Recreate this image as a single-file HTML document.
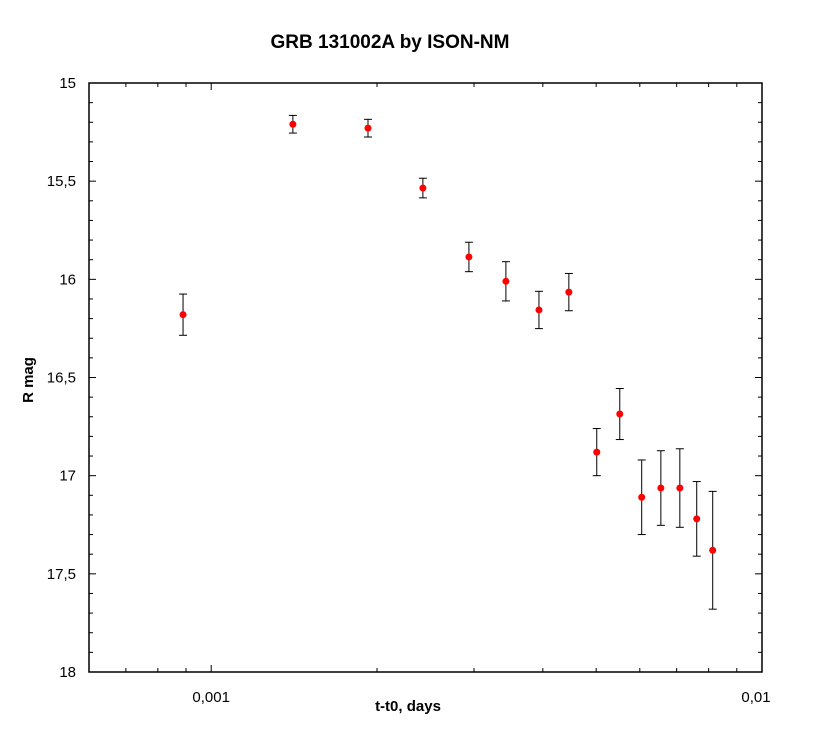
<!DOCTYPE html>
<html><head><meta charset="utf-8"><style>
html,body{margin:0;padding:0;background:#fff;}
svg text{font-family:"Liberation Sans",Arial,sans-serif;}
</style></head><body>
<svg id="chart" width="814" height="732" xmlns="http://www.w3.org/2000/svg">
<text x="390" y="48" text-anchor="middle" font-size="19" font-weight="bold">GRB 131002A by ISON-NM</text>
<text x="408" y="711" text-anchor="middle" font-size="15" font-weight="bold">t-t0, days</text>
<text x="33" y="380" text-anchor="middle" font-size="15" font-weight="bold" transform="rotate(-90 33 380)">R mag</text>
<rect x="89" y="83" width="673" height="589" fill="none" stroke="#000" stroke-width="1.5"/>
<g id="axes"></g><g id="marks"></g>
</svg>
<script>
const times = [0.000889,0.001407,0.001926,0.002423,0.002937,0.003428,0.003936,0.004460,0.005012,0.005518,0.006048,0.006552,0.007093,0.007612,0.008138];
const mags = [16.18,15.21,15.23,15.535,15.886,16.01,16.156,16.065,16.88,16.686,17.11,17.063,17.063,17.22,17.38];
const errs = [0.105,0.045,0.045,0.05,0.075,0.1,0.095,0.095,0.12,0.13,0.19,0.19,0.2,0.19,0.3];
const yTickLabels = ["15","15,5","16","16,5","17","17,5","18"];
const xTickValues = [0.001,0.01];
const xTickLabels = ["0,001","0,01"];
const L=89,R=762,T=83,B=672, xmin=0.0006,xmax=0.01,ymin=15,ymax=18;
const NS="http://www.w3.org/2000/svg";
const sx=v=>L+(Math.log10(v)-Math.log10(xmin))/(Math.log10(xmax)-Math.log10(xmin))*(R-L);
const sy=v=>T+(v-ymin)/(ymax-ymin)*(B-T);
function mk(tag,attrs,parent){const e=document.createElementNS(NS,tag);for(const k in attrs)e.setAttribute(k,attrs[k]);parent.appendChild(e);return e;}
const ax=document.getElementById('axes'), mg=document.getElementById('marks');
for(let i=0;i<=30;i++){const v=15+i*0.1,y=sy(v),len=(i%5===0)?7:4;
 let t=mk('line',{x1:L,x2:L+len,y1:y,y2:y,stroke:'#000'},ax);
 
 
 let t2=mk('line',{x1:R,x2:R-len,y1:y,y2:y,stroke:'#000'},ax);
 
 }
yTickLabels.forEach((s,i)=>{const tx=mk('text',{x:76,y:sy(15+i*0.5)+5,'text-anchor':'end','font-size':'15'},ax);tx.textContent=s;
 
 });
for(let d=-4;d<=-2;d++)for(let m=1;m<10;m++){const v=m*Math.pow(10,d);if(v<xmin*0.999||v>xmax*1.001)continue;const x=sx(v),len=(m===1)?7:4;
 let t=mk('line',{x1:x,x2:x,y1:B,y2:B-len,stroke:'#000'},ax);
 
 
 let t2=mk('line',{x1:x,x2:x,y1:T,y2:T+len,stroke:'#000'},ax);
 
 }
xTickValues.forEach((v,i)=>{const x=sx(v)-(i===1?6:0);const tx=mk('text',{x:x,y:702,'text-anchor':'middle','font-size':'15'},ax);tx.textContent=xTickLabels[i];
 
 });
times.forEach((t,i)=>{const x=sx(t),y=sy(mags[i]),y1=sy(mags[i]-errs[i]),y2=sy(mags[i]+errs[i]);
 const g=mk('g',{},mg);
 
 
 mk('line',{x1:x,x2:x,y1:y1,y2:y2,stroke:'#000'},g);
 mk('line',{x1:x-4,x2:x+4,y1:y1,y2:y1,stroke:'#000'},g);
 mk('line',{x1:x-4,x2:x+4,y1:y2,y2:y2,stroke:'#000'},g);
 mk('circle',{cx:x,cy:y,r:3.5,fill:'#ff0000'},g);});
</script>
</body></html>
